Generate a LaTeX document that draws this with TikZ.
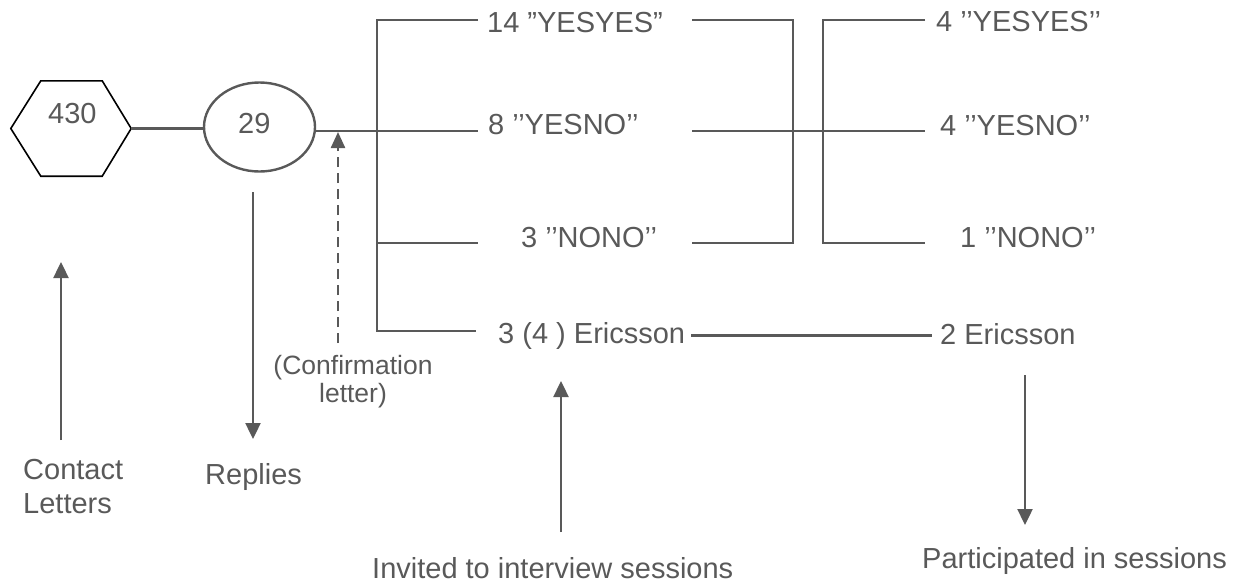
\documentclass[tikz,border=0pt]{standalone}
\usepackage{fontspec}
\setmainfont{Liberation Sans}
\usetikzlibrary{arrows.meta,shapes.geometric}
\definecolor{ink}{HTML}{595959}
\begin{document}
\begin{tikzpicture}[x=1pt,y=-1pt,
  line/.style={draw=ink,line width=2.4pt},
  arr/.style={line,-{Triangle[width=15pt,length=16pt]}},
  darr/.style={line,dashed,dash pattern=on 10pt off 6pt,-{Triangle[width=14pt,length=16pt]}},
  txt/.style={text=ink,font=\fontsize{29}{34}\selectfont,inner sep=0pt,anchor=base west},
  lbl/.style={text=ink,font=\fontsize{29}{34}\selectfont,inner sep=0pt},
  small/.style={text=ink,font=\fontsize{26.5}{28}\selectfont,inner sep=0pt,align=center}]
\useasboundingbox (0,0) rectangle (1240,584);

% hexagon 430
\node[minimum width=120pt,minimum height=95pt,inner sep=0pt] (hex) at (71,128.5) {};
\draw[black,line width=1.6pt] (hex.west) -- ([xshift=30pt]hex.north west) -- ([xshift=-29pt]hex.north east)
  -- (hex.east) -- ([xshift=-29pt]hex.south east) -- ([xshift=30pt]hex.south west) -- cycle;
\node[txt] (n430) at (48,123) {430};

% ellipse 29
\node[ellipse,draw=ink,line width=2.4pt,minimum width=111pt,minimum height=89pt,inner sep=0pt] (e29) at (259.5,127) {};
\node[txt] (n29) at (238,133) {29};
\draw[line] (hex.east) -- (hex.east -| e29.west);

% first column texts
\node[txt] (t14) at (487,32) {14 ”YESYES”};
\node[txt] (t8)  at (488,134) {8 ’’YESNO’’};
\node[txt] (t3)  at (521,247) {3 ’’NONO’’};
\node[txt] (tE)  at (498,343) {3 (4 ) Ericsson};

% second column texts
\node[txt] (u4)  at (936,31) {4 ’’YESYES’’};
\node[txt] (u4n) at (940,135) {4 ’’YESNO’’};
\node[txt] (u1)  at (960,247) {1 ’’NONO’’};
\node[txt] (uE)  at (940,344) {2 Ericsson};

% left bus
\coordinate (btop) at (377,20);
\coordinate (bmid) at (377,131);
\coordinate (bno)  at (377,243);
\coordinate (bbot) at (377,331);
\coordinate (a14) at (478,20);
\coordinate (a8)  at (478,131);
\coordinate (a3)  at (478,243);
\coordinate (aE)  at (476,331);
\draw[line] (e29.east |- bmid) -- (a8);
\draw[line] (a14) -- (btop) -- (bbot) -- (aE);
\draw[line] (bno) -- (a3);

% middle brackets
\coordinate (m14) at (692,20);
\coordinate (m8)  at (692,131);
\coordinate (m3)  at (692,243);
\coordinate (v1t) at (793,20);
\coordinate (v1b) at (793,243);
\coordinate (v2t) at (823,20);
\coordinate (v2b) at (823,243);
\coordinate (r14) at (925,20);
\coordinate (r8)  at (925,131);
\coordinate (r3)  at (925,243);
\draw[line] (m14) -- (v1t) -- (v1b) -- (m3);
\draw[line] (m8) -- (r8);
\draw[line] (r14) -- (v2t) -- (v2b) -- (r3);

% Ericsson link
\draw[line,shorten <=6pt,shorten >=8pt] (tE.east) -- (tE.east -| uE.west);

% dashed confirmation arrow
\coordinate (d0) at (338,343);
\coordinate (d1) at (338,132);
\draw[darr] (d0) -- (d1);
\node[small] (conf) at (353,382) {(Confirmation\\letter)};

% bottom labels and arrows
\node[lbl,align=left,anchor=west] (contact) at (23,486.4) {Contact\\Letters};
\coordinate (c0) at (61,440);
\coordinate (c1) at (61,262);
\draw[arr] (c0) -- (c1);

\node[txt] (replies) at (205,484) {Replies};
\coordinate (r0) at (253,192);
\coordinate (r1) at (253,439);
\draw[arr] (r0) -- (r1);

\node[txt] (invited) at (372,578) {Invited to interview sessions};
\coordinate (i0) at (561,532);
\coordinate (i1) at (561,381);
\draw[arr] (i0) -- (i1);

\node[txt] (part) at (922,568) {Participated in sessions};
\coordinate (p0) at (1025,375);
\coordinate (p1) at (1025,525);
\draw[arr] (p0) -- (p1);
\end{tikzpicture}
\end{document}
